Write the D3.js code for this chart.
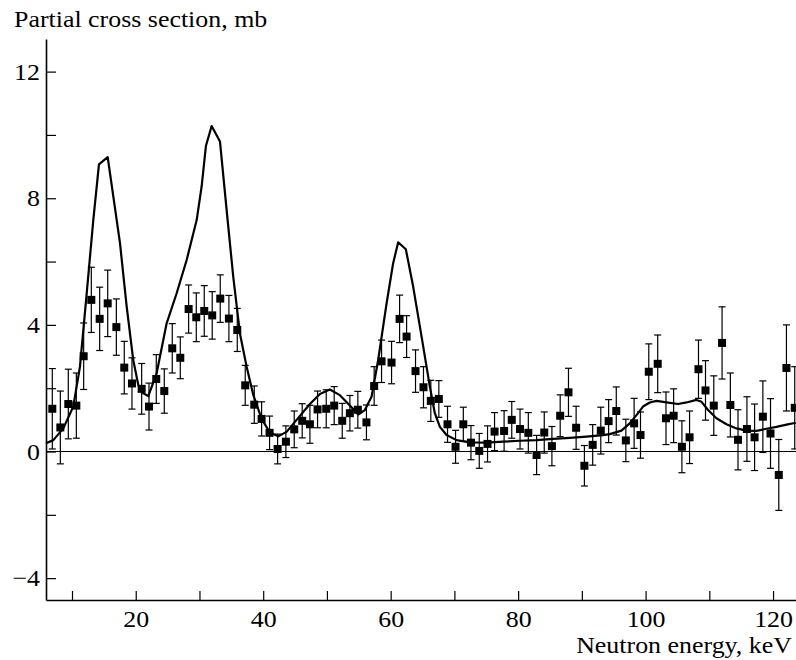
<!DOCTYPE html>
<html>
<head>
<meta charset="utf-8">
<script src="https://cdn.jsdelivr.net/npm/d3@7"></script>
<style>
  body { margin: 0; background: #fff; }
  svg { display: block; }
  text { font-family: "Liberation Serif", "Times New Roman", serif; fill: #000; }
</style>
</head>
<body>
<div id="chart"></div>
<script>
//defaults for the chart
const height = 660
const width = 796
const margin = { top: 39, right: 0, bottom: 60, left: 46 }
const side = 8
const capWidth = 7
const stretch = 1.08

// measured partial cross section (mb) with errors
const energy = [6.91, 8.17, 9.42, 10.68, 11.83, 13.03, 14.34, 15.6, 16.96, 18.2,
  19.41, 20.93, 22.08, 23.22, 24.48, 25.73, 26.99, 28.3, 29.5, 30.75,
  32.0, 33.26, 34.62, 35.93, 37.18, 38.6, 39.75, 41.0, 42.26, 43.56,
  44.87, 46.12, 47.33, 48.53, 49.89, 51.14, 52.4, 53.6, 54.85, 56.2,
  57.41, 58.57, 60.14, 61.4, 62.5, 63.9, 65.15, 66.3, 67.56, 68.92,
  70.18, 71.4, 72.6, 73.9, 75.2, 76.3, 77.8, 79.0, 80.3, 81.6,
  82.9, 84.1, 85.3, 86.6, 87.9, 89.1, 90.4, 91.7, 92.97, 94.2,
  95.4, 96.9, 98.2, 99.2, 100.5, 101.9, 103.2, 104.4, 105.7, 106.9,
  108.3, 109.4, 110.7, 112.0, 113.3, 114.5, 115.9, 117.1, 118.4, 119.6,
  120.9, 122.1, 123.4]
const crossSection = [1.35, 0.76, 1.50, 1.45, 3.01, 4.79, 4.19, 4.68, 3.93, 2.65,
  2.15, 1.98, 1.42, 2.29, 1.91, 3.26, 2.96, 4.50, 4.24, 4.44,
  4.30, 4.83, 4.20, 3.84, 2.09, 1.48, 1.03, 0.59, 0.08, 0.31,
  0.70, 0.97, 0.86, 1.33, 1.35, 1.45, 0.97, 1.21, 1.32, 0.92,
  2.07, 2.85, 2.81, 4.19, 3.63, 2.54, 2.03, 1.60, 1.66, 0.86,
  0.15, 0.86, 0.28, 0.02, 0.24, 0.63, 0.65, 1.00, 0.71, 0.59,
  -0.11, 0.60, 0.17, 1.13, 1.87, 0.75, -0.45, 0.21, 0.66, 0.96,
  1.28, 0.35, 0.89, 0.52, 2.52, 2.77, 1.05, 1.13, 0.15, 0.45,
  2.60, 1.93, 1.45, 3.43, 1.47, 0.37, 0.71, 0.45, 1.10, 0.57,
  -0.74, 2.64, 1.38]
const crossError = [1.27, 1.15, 1.10, 1.03, 1.05, 1.03, 1.00, 1.05, 0.89, 0.83,
  0.81, 0.80, 0.74, 0.77, 0.70, 0.78, 0.66, 0.76, 0.77, 0.80,
  0.75, 0.75, 0.73, 0.68, 0.63, 0.59, 0.54, 0.53, 0.47, 0.50,
  0.58, 0.54, 0.60, 0.58, 0.60, 0.60, 0.55, 0.56, 0.58, 0.55,
  0.61, 0.67, 0.67, 0.75, 0.66, 0.67, 0.65, 0.65, 0.58, 0.57,
  0.52, 0.54, 0.54, 0.55, 0.57, 0.60, 0.64, 0.58, 0.63, 0.64,
  0.62, 0.65, 0.62, 0.66, 0.76, 0.68, 0.64, 0.64, 0.74, 0.68,
  0.76, 0.67, 0.79, 0.73, 0.88, 0.91, 0.83, 0.85, 0.82, 0.83,
  0.92, 0.94, 0.94, 1.14, 1.01, 0.95, 1.02, 1.05, 1.13, 1.10,
  1.12, 1.36, 1.30]

// calculated curve
const curveEnergy = [5.92, 7.07, 8.64, 10.2, 11.25, 12.31, 13.34, 14.23, 15.6, 17.53,
  18.58, 19.61, 20.4, 21.14, 21.97, 23.28, 24.85, 26.42, 27.99, 29.56,
  30.34, 31.02, 31.91, 33.22, 34.26, 35.3, 36.35, 37.4, 38.43, 39.75,
  41.05, 42.36, 43.67, 45.24, 47.33, 48.9, 50.46, 52.03, 53.6, 54.9,
  55.95, 57.0, 58.04, 59.36, 60.39, 61.18, 62.38, 63.53, 64.85, 66.15,
  66.93, 67.72, 68.77, 70.34, 72.42, 75.04, 77.64, 80.26, 82.88, 85.48,
  88.1, 90.72, 93.32, 94.38, 96.21, 97.51, 98.57, 99.6, 100.66, 101.71,
  103.28, 105.1, 106.42, 107.99, 108.78, 109.8, 111.12, 112.69, 114.26, 115.83,
  117.4, 118.97, 120.54, 122.11, 123.57]
const curveValue = [0.26, 0.36, 0.73, 1.42, 2.68, 5.0, 7.31, 9.07, 9.3, 6.58,
  4.58, 2.89, 2.1, 1.85, 1.75, 2.47, 4.05, 5.0, 6.05, 7.31,
  8.37, 9.66, 10.28, 9.79, 7.63, 5.52, 3.73, 2.68, 1.8, 1.03,
  0.6, 0.48, 0.62, 1.0, 1.5, 1.82, 1.96, 1.78, 1.45, 1.17,
  1.31, 1.73, 2.89, 4.68, 5.95, 6.61, 6.39, 5.21, 3.63, 2.05,
  1.21, 0.78, 0.52, 0.36, 0.29, 0.28, 0.31, 0.34, 0.36, 0.4,
  0.43, 0.47, 0.52, 0.55, 0.66, 0.89, 1.15, 1.42, 1.55, 1.6,
  1.55, 1.5, 1.55, 1.63, 1.57, 1.31, 1.05, 0.86, 0.73, 0.66,
  0.65, 0.72, 0.78, 0.85, 0.91]

const xTicks = [10, 20, 30, 40, 50, 60, 70, 80, 90, 100, 110, 120]
const xLabels = [20, 40, 60, 80, 100, 120]
const yTicks = [-4, -2, 0, 2, 4, 6, 8, 10, 12]
const yLabels = [-4, 0, 4, 8, 12]

const chart = d3.select('#chart')
  .append('svg')
  .attr('height', height)
  .attr('width', width)

const xScale = d3.scaleLinear()
  .domain([5.92, 123.6])
  .range([margin.left, width - margin.right])

const yScale = d3.scaleLinear()
  .domain([-4.69, 13.03])
  .range([height - margin.bottom, margin.top])

const drawAxis = function () {
  const xAxis = d3.axisBottom(xScale)
    .tickValues(xTicks)
    .tickSizeInner(-9)
    .tickSizeOuter(0)
    .tickPadding(10)
    .tickFormat(d => xLabels.includes(d) ? d : '')

  const yAxis = d3.axisLeft(yScale)
    .tickValues(yTicks)
    .tickSizeInner(-10)
    .tickSizeOuter(0)
    .tickPadding(6)
    .tickFormat(d => yLabels.includes(d) ? d3.format('d')(d) : '')

  const gx = chart.append('g')
    .attr('id', 'x-axis')
    .attr('transform', 'translate(0,' + (height - margin.bottom) + ')')
    .call(xAxis)

  const gy = chart.append('g')
    .attr('id', 'y-axis')
    .attr('transform', 'translate(' + margin.left + ',0)')
    .call(yAxis)

  for (const g of [gx, gy]) {
    g.select('.domain').attr('stroke', '#000').attr('stroke-width', 1.6)
    g.selectAll('.tick line').attr('stroke', '#000').attr('stroke-width', 1.2)
    g.selectAll('.tick text')
      .attr('font-family', '"Liberation Serif", "Times New Roman", serif')
      .attr('font-size', 24)
      .attr('fill', '#000')
  }
  gx.selectAll('.tick text').attr('transform', 'scale(' + stretch + ',1)')
  gy.selectAll('.tick text')
    .attr('x', -6 / stretch)
    .attr('transform', 'scale(' + stretch + ',1)')

  // axis titles
  chart.append('g')
    .attr('transform', 'translate(14,27) scale(' + stretch + ',1)')
    .append('text')
    .attr('font-size', 24)
    .text('Partial cross section, mb')

  chart.append('g')
    .attr('transform', 'translate(792,653) scale(' + stretch + ',1)')
    .append('text')
    .attr('font-size', 24)
    .attr('text-anchor', 'end')
    .text('Neutron energy, keV')
}

const drawChart = function () {
  // zero level
  chart.append('line')
    .attr('x1', xScale.range()[0])
    .attr('x2', xScale.range()[1])
    .attr('y1', yScale(0))
    .attr('y2', yScale(0))
    .attr('stroke', '#000')
    .attr('stroke-width', 1.2)

  const line = d3.line()
    .x((d, i) => xScale(curveEnergy[i]))
    .y(d => yScale(d))

  chart.append('path')
    .datum(curveValue)
    .attr('d', line)
    .attr('fill', 'none')
    .attr('stroke', '#000')
    .attr('stroke-width', 2.2)
    .attr('stroke-linejoin', 'round')

  const points = chart.selectAll('g.point')
    .data(energy)
    .enter()
    .append('g')
    .attr('class', 'point')

  points.append('line')
    .attr('x1', d => xScale(d))
    .attr('x2', d => xScale(d))
    .attr('y1', (d, i) => yScale(crossSection[i] + crossError[i]))
    .attr('y2', (d, i) => yScale(crossSection[i] - crossError[i]))

  points.append('line')
    .attr('x1', d => xScale(d) - capWidth / 2)
    .attr('x2', d => xScale(d) + capWidth / 2)
    .attr('y1', (d, i) => yScale(crossSection[i] + crossError[i]))
    .attr('y2', (d, i) => yScale(crossSection[i] + crossError[i]))

  points.append('line')
    .attr('x1', d => xScale(d) - capWidth / 2)
    .attr('x2', d => xScale(d) + capWidth / 2)
    .attr('y1', (d, i) => yScale(crossSection[i] - crossError[i]))
    .attr('y2', (d, i) => yScale(crossSection[i] - crossError[i]))

  points.selectAll('line')
    .attr('stroke', '#000')
    .attr('stroke-width', 1.2)

  points.append('rect')
    .attr('x', d => xScale(d) - side / 2)
    .attr('y', (d, i) => yScale(crossSection[i]) - side / 2)
    .attr('width', side)
    .attr('height', side)
    .attr('fill', '#000')
}

drawChart()
drawAxis()
</script>
</body>
</html>
